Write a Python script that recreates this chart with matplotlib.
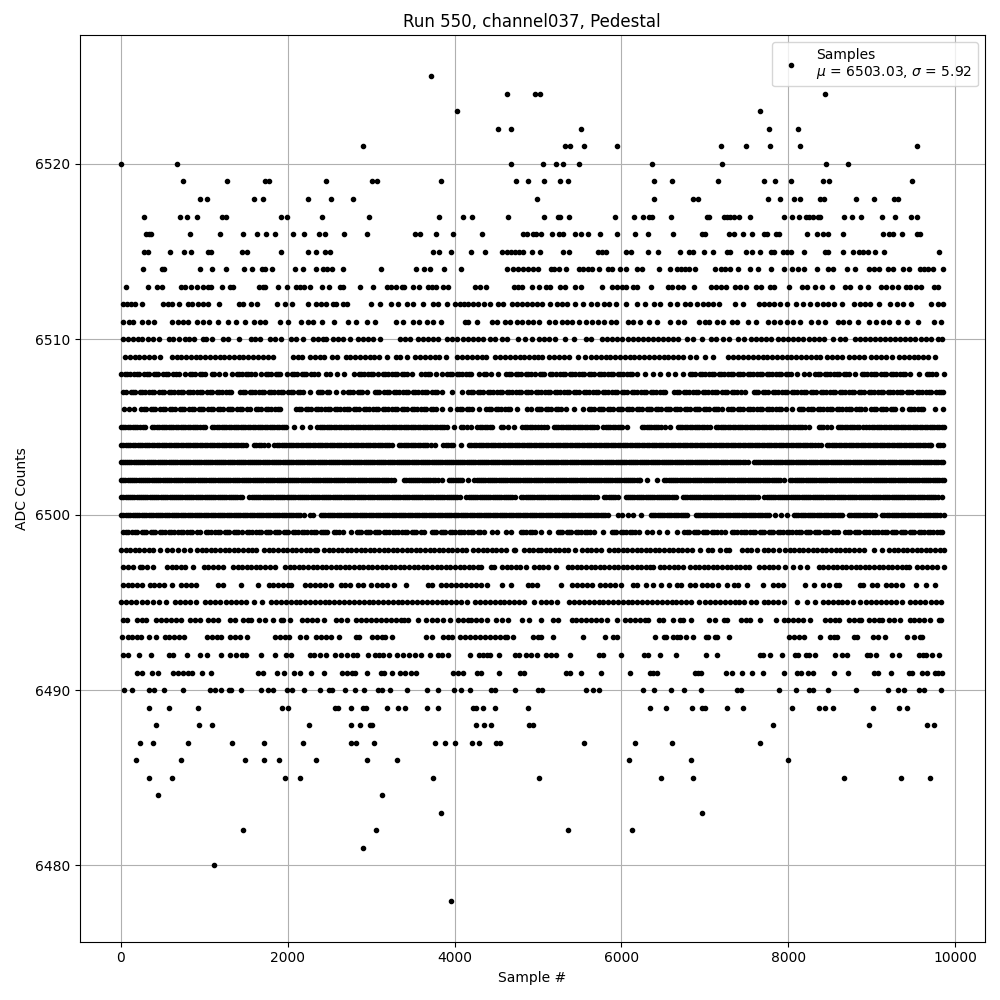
import matplotlib
matplotlib.use("Agg")
import matplotlib.pyplot as plt

# sample numbers, one list per ADC level
s6525 = [3720]
s6524 = [4632, 4964, 5024, 8436]
s6523 = [4032, 7656]
s6522 = [4524, 4672, 5520, 7764, 8112]
s6521 = [2904, 5320, 5388, 5556, 5952, 7188, 7488, 7776, 8136, 9540]
s6520 = [0, 672, 4680, 5064, 5220, 5296, 5496, 6360, 7200, 8448, 8712]
s6519 = [744, 1272, 1724, 1776, 2460, 3012, 3072, 3840, 4740, 4884, 5076, 5268, 5364, 6384, 6600, 7152, 7704, 7836,
         8028, 8412, 8484, 9480]
s6518 = [948, 1032, 1596, 1704, 2244, 2520, 2784, 4992, 6384, 6852, 6912, 7752, 7896, 8064, 8136, 8376, 8424, 8808,
         9024, 9264, 9312]
s6517 = [276, 708, 796, 912, 1212, 1260, 1920, 1992, 2412, 2976, 3816, 4104, 4212, 4644, 5076, 5244, 5268, 5376,
         5928, 6144, 6252, 6324, 6360, 6588, 7020, 7044, 7224, 7260, 7296, 7344, 7404, 7536, 7944, 8040, 8124, 8208,
         8244, 8292, 8352, 8376, 8664, 8760, 8868, 9120, 9276, 9468, 9540]
s6516 = [300, 336, 368, 828, 1188, 1464, 1632, 1740, 1848, 2064, 2196, 2376, 2448, 2676, 2952, 3528, 3588, 3780,
         3984, 4332, 4824, 4864, 4944, 4976, 5032, 5172, 5256, 5304, 5448, 5520, 5604, 5748, 5952, 6156, 6312, 6612,
         6960, 6996, 7284, 7344, 7452, 7560, 7704, 7740, 7856, 7884, 8220, 8340, 8412, 8472, 8652, 9132, 9204, 9252,
         9360, 9540, 9572]
s6515 = [284, 328, 588, 756, 840, 1048, 1080, 1448, 1512, 1920, 2244, 2340, 2448, 2508, 3744, 3816, 3960, 4200,
         4368, 4572, 4624, 4680, 4728, 4776, 4824, 4932, 5028, 5304, 5376, 5724, 5772, 5820, 6060, 6108, 6312, 6432,
         6696, 6804, 6852, 6984, 7092, 7260, 7296, 7488, 7560, 7656, 7788, 7824, 7932, 7980, 8028, 8184, 8436, 8472,
         8652, 8772, 8844, 8892, 8952, 9036, 9144, 9804]
s6514 = [264, 492, 520, 948, 1092, 1260, 1476, 1572, 1692, 1728, 1812, 2088, 2184, 2340, 2424, 2472, 2532, 2664,
         3120, 3540, 3636, 3708, 3876, 4080, 4632, 4704, 4764, 4824, 4884, 4936, 5004, 5160, 5196, 5256, 5340, 5496,
         5544, 5604, 5652, 5736, 5844, 5892, 5988, 6052, 6180, 6240, 6444, 6576, 6660, 6708, 6756, 6804, 6876, 7116,
         7188, 7236, 7296, 7392, 7536, 7632, 7788, 7944, 8040, 8112, 8184, 8340, 8472, 8532, 8700, 8796, 8964, 9024,
         9084, 9192, 9252, 9372, 9444, 9576, 9624, 9672, 9732, 9852]
s6513 = [60, 324, 440, 492, 720, 768, 840, 912, 984, 1044, 1080, 1212, 1308, 1344, 1656, 1704, 1728, 1884, 1992,
         2100, 2148, 2196, 2268, 2412, 2496, 2628, 2664, 2868, 3024, 3192, 3240, 3300, 3372, 3396, 3504, 3576, 3684,
         3732, 3780, 3864, 3924, 4248, 4308, 4380, 4716, 4764, 4812, 4932, 5016, 5100, 5148, 5268, 5328, 5448, 5520,
         5772, 5892, 5952, 6012, 6060, 6132, 6180, 6348, 6552, 6600, 6672, 6732, 6864, 7068, 7128, 7188, 7248, 7356,
         7416, 7488, 7612, 7668, 7776, 7824, 8004, 8160, 8220, 8316, 8400, 8520, 8676, 8736, 8856, 8952, 9108, 9168,
         9240, 9312, 9408, 9456, 9528, 9588, 9744, 9792]
s6512 = [24, 72, 120, 168, 252, 504, 564, 612, 696, 804, 852, 924, 984, 1044, 1176, 1416, 1464, 1560, 1632, 1872,
         1968, 2052, 2244, 2344, 2404, 2464, 2544, 2584, 2664, 2712, 3000, 3108, 3240, 3324, 3432, 3504, 3616, 3744,
         3804, 3912, 4008, 4064, 4116, 4164, 4216, 4284, 4356, 4428, 4524, 4584, 4684, 4744, 4804, 4864, 4924, 4984,
         5052, 5148, 5232, 5292, 5352, 5448, 5544, 5640, 5712, 5796, 5856, 5940, 6060, 6180, 6276, 6384, 6456, 6576,
         6660, 6756, 6816, 6900, 6972, 7032, 7092, 7164, 7356, 7452, 7644, 7704, 7764, 7824, 7896, 7980, 8088, 8172,
         8256, 8340, 8412, 8472, 8552, 8640, 8784, 8856, 8916, 8976, 9084, 9220, 9304, 9372, 9468, 9708, 9792, 9852]
s6511 = [24, 104, 144, 252, 324, 396, 612, 684, 744, 804, 912, 984, 1064, 1164, 1284, 1384, 1488, 1592, 1664, 1728,
         1912, 2004, 2160, 2244, 2304, 2412, 2552, 2724, 2820, 2952, 3048, 3304, 3384, 3504, 3576, 3664, 3744, 3840,
         4124, 4164, 4264, 4444, 4504, 4604, 4664, 4744, 4804, 4884, 4944, 5016, 5136, 5208, 5292, 5352, 5412, 5492,
         5572, 5652, 5724, 5796, 5872, 5940, 6072, 6132, 6216, 6324, 6420, 6576, 6672, 6744, 6924, 6996, 7044, 7140,
         7212, 7320, 7380, 7512, 7608, 7752, 7824, 7896, 7980, 8052, 8140, 8272, 8352, 8436, 8592, 8652, 8724, 8832,
         8964, 9052, 9132, 9204, 9312, 9420, 9552, 9744, 9828]
s6510 = [24, 84, 144, 204, 252, 324, 384, 456, 576, 624, 704, 776, 824, 884, 984, 1024, 1092, 1224, 1284, 1416,
         1564, 1608, 1668, 1784, 1844, 1924, 2044, 2104, 2184, 2304, 2364, 2424, 2464, 2544, 2604, 2664, 2744, 2844,
         2904, 2964, 3024, 3108, 3344, 3404, 3464, 3564, 3624, 3684, 3744, 3804, 3904, 3964, 4024, 4104, 4164, 4224,
         4284, 4344, 4424, 4484, 4564, 4624, 4764, 4844, 4924, 5012, 5072, 5132, 5204, 5324, 5432, 5572, 5632, 5772,
         5832, 5892, 5952, 6012, 6072, 6132, 6192, 6252, 6312, 6372, 6432, 6492, 6552, 6612, 6672, 6784, 6852, 6960,
         7072, 7132, 7212, 7292, 7392, 7472, 7552, 7612, 7672, 7732, 7792, 7872, 7932, 7992, 8052, 8112, 8172, 8252,
         8312, 8372, 8432, 8532, 8620, 8676, 8792, 8852, 8912, 8972, 9032, 9092, 9152, 9212, 9272, 9332, 9392, 9452,
         9512, 9592, 9652, 9712, 9792, 9844]
s6509 = [54, 110, 170, 225, 285, 340, 400, 474, 614, 670, 725, 780, 840, 900, 955, 1010, 1070, 1125, 1185, 1240,
         1300, 1355, 1415, 1470, 1530, 1590, 1645, 1700, 1760, 1826, 2066, 2120, 2174, 2274, 2330, 2390, 2434, 2534,
         2594, 2694, 2750, 2810, 2870, 2925, 2985, 3040, 3100, 3194, 3294, 3350, 3426, 3526, 3585, 3640, 3700, 3760,
         3815, 3894, 4034, 4090, 4150, 4210, 4270, 4330, 4374, 4486, 4545, 4600, 4660, 4720, 4780, 4835, 4890, 4950,
         5004, 5052, 5130, 5190, 5250, 5310, 5374, 5482, 5562, 5634, 5690, 5750, 5810, 5865, 5925, 5980, 6040, 6100,
         6155, 6215, 6270, 6330, 6390, 6445, 6505, 6560, 6620, 6680, 6735, 6822, 6892, 7002, 7102, 7282, 7340, 7400,
         7455, 7515, 7570, 7630, 7690, 7745, 7805, 7860, 7920, 7980, 8035, 8095, 8150, 8210, 8270, 8325, 8382, 8462,
         8520, 8580, 8642, 8730, 8790, 8850, 8902, 8994, 9050, 9110, 9170, 9242, 9322, 9380, 9440, 9500, 9555, 9615,
         9675, 9762]
s6508 = [5, 50, 110, 165, 220, 280, 335, 395, 450, 510, 565, 625, 694, 774, 830, 890, 945, 1005, 1094, 1182, 1254,
         1334, 1390, 1450, 1505, 1560, 1614, 1686, 1740, 1800, 1860, 1914, 1994, 2050, 2110, 2170, 2225, 2285, 2362,
         2454, 2510, 2594, 2680, 2794, 2850, 2910, 2965, 3025, 3085, 3140, 3200, 3255, 3315, 3370, 3430, 3494, 3594,
         3650, 3710, 3774, 3854, 3910, 3970, 4025, 4085, 4140, 4194, 4294, 4350, 4434, 4522, 4622, 4680, 4735, 4795,
         4850, 4910, 4965, 5020, 5075, 5142, 5210, 5265, 5325, 5380, 5440, 5495, 5555, 5610, 5670, 5725, 5785, 5840,
         5900, 5955, 6015, 6070, 6130, 6185, 6282, 6372, 6460, 6554, 6638, 6735, 6822, 6880, 6935, 6995, 7050, 7110,
         7165, 7225, 7280, 7340, 7395, 7455, 7510, 7570, 7625, 7685, 7740, 7800, 7855, 7915, 7970, 8030, 8102, 8182,
         8242, 8322, 8380, 8435, 8495, 8550, 8610, 8665, 8725, 8802, 8882, 8940, 8995, 9055, 9110, 9170, 9225, 9285,
         9340, 9400, 9455, 9562, 9662, 9720, 9774, 9860]
f6508 = [80, 195, 310, 425, 540, 660, 860, 975, 1120, 1420, 1530, 1770, 1885, 2080, 2200, 2320, 2880, 3000, 3170,
         3285, 3400, 3680, 3940, 4055, 4170, 4380, 4650, 4765, 4880, 5045, 5170, 5295, 5410, 5525, 5640, 5755, 5870,
         5985, 6100, 6850, 6965, 7080, 7195, 7310, 7425, 7540, 7655, 7770, 7885, 8000, 8350, 8465, 8580, 8695, 8910,
         9025, 9140, 9255, 9370, 9690]
s6507 = [62, 118, 175, 230, 290, 345, 405, 460, 520, 575, 635, 690, 750, 805, 865, 920, 980, 1035, 1095, 1150, 1210,
         1265, 1322, 1434, 1490, 1545, 1605, 1660, 1720, 1775, 1835, 1890, 1950, 2005, 2065, 2120, 2186, 2268, 2358,
         2415, 2470, 2574, 2666, 2725, 2780, 2840, 2895, 2954, 3042, 3100, 3155, 3215, 3270, 3330, 3385, 3445, 3500,
         3560, 3615, 3675, 3730, 3790, 3854, 3970, 4085, 4166, 4225, 4280, 4340, 4395, 4455, 4510, 4570, 4625, 4685,
         4740, 4800, 4855, 4915, 4970, 5030, 5085, 5145, 5200, 5260, 5315, 5375, 5430, 5490, 5545, 5605, 5660, 5720,
         5775, 5835, 5890, 5950, 6005, 6065, 6120, 6180, 6235, 6295, 6350, 6410, 6465, 6522, 6630, 6690, 6745, 6805,
         6860, 6920, 6975, 7035, 7090, 7150, 7205, 7265, 7320, 7380, 7435, 7474, 7582, 7640, 7695, 7755, 7810, 7870,
         7925, 7985, 8040, 8100, 8155, 8215, 8270, 8330, 8385, 8445, 8500, 8560, 8615, 8675, 8730, 8790, 8845, 8905,
         8960, 9020, 9075, 9135, 9190, 9250, 9305, 9365, 9420, 9480, 9535, 9595, 9650, 9712, 9774, 9830, 9854]
f6507 = [32, 145, 260, 375, 490, 605, 720, 835, 950, 1065, 1180, 1295, 1460, 1575, 1690, 1805, 1920, 2035, 2150,
         2385, 2500, 2750, 2865, 3070, 3185, 3300, 3415, 3530, 3645, 3760, 4195, 4310, 4425, 4540, 4655, 4770, 4885,
         5000, 5115, 5230, 5345, 5460, 5575, 5690, 5805, 5920, 6035, 6150, 6265, 6380, 6495, 6660, 6775, 6890, 7005,
         7120, 7235, 7350, 7610, 7725, 7840, 7955, 8070, 8185, 8300, 8415, 8530, 8645, 8760, 8875, 8990, 9105, 9220,
         9335, 9450, 9565, 9680, 9800]
s6506 = [38, 100, 154, 246, 300, 360, 415, 475, 530, 590, 645, 705, 760, 820, 875, 935, 990, 1050, 1105, 1165, 1220,
         1280, 1335, 1395, 1450, 1510, 1554, 1622, 1680, 1735, 1795, 1850, 1914, 2106, 2165, 2220, 2280, 2335, 2395,
         2450, 2510, 2565, 2625, 2680, 2740, 2795, 2855, 2910, 2970, 3025, 3085, 3140, 3200, 3255, 3315, 3370, 3430,
         3485, 3545, 3600, 3660, 3715, 3775, 3854, 3940, 4034, 4090, 4150, 4205, 4294, 4382, 4440, 4495, 4555, 4610,
         4670, 4754, 4862, 4920, 4982, 5040, 5095, 5155, 5210, 5270, 5338, 5434, 5534, 5610, 5665, 5725, 5780, 5840,
         5895, 5955, 6010, 6070, 6125, 6185, 6240, 6300, 6355, 6415, 6470, 6530, 6585, 6645, 6700, 6760, 6815, 6875,
         6930, 6990, 7045, 7105, 7160, 7202, 7282, 7340, 7395, 7455, 7510, 7570, 7625, 7685, 7740, 7800, 7855, 7915,
         7970, 8042, 8122, 8180, 8235, 8295, 8350, 8410, 8465, 8525, 8580, 8640, 8695, 8755, 8810, 8870, 8922, 8994,
         9050, 9110, 9165, 9225, 9280, 9362, 9442, 9500, 9555, 9610, 9762, 9854]
f6506 = [275, 390, 505, 620, 735, 850, 965, 1080, 1195, 1310, 1425, 1650, 1765, 1880, 2135, 2250, 2365, 2480, 2595,
         2710, 2825, 2940, 3055, 3170, 3285, 3400, 3515, 3630, 3745, 4060, 4175, 4410, 4525, 4640, 5010, 5125, 5240,
         5635, 5750, 5865, 5980, 6095, 6210, 6325, 6440, 6555, 6670, 6785, 6900, 7015, 7130, 7310, 7425, 7540, 7655,
         7770, 7885, 8150, 8265, 8380, 8495, 8610, 8725, 8840, 9020, 9135, 9250, 9470, 9585]
s6505 = [5, 55, 115, 170, 230, 294, 374, 430, 490, 545, 605, 660, 720, 775, 835, 890, 950, 1014, 1094, 1150, 1210,
         1265, 1325, 1380, 1440, 1495, 1555, 1610, 1670, 1725, 1785, 1840, 1900, 1955, 1986, 2080, 2174, 2274, 2354,
         2410, 2470, 2525, 2585, 2640, 2700, 2755, 2815, 2870, 2930, 2985, 3045, 3100, 3160, 3215, 3275, 3330, 3390,
         3445, 3505, 3560, 3620, 3675, 3735, 3790, 3850, 3905, 3994, 4074, 4194, 4274, 4330, 4390, 4454, 4554, 4714,
         4814, 4870, 4930, 4994, 5040, 5110, 5186, 5245, 5300, 5360, 5415, 5475, 5530, 5590, 5645, 5710, 5782, 5840,
         5895, 5955, 6010, 6062, 6242, 6300, 6355, 6415, 6470, 6582, 6674, 6730, 6790, 6845, 6905, 6960, 7020, 7062,
         7130, 7190, 7245, 7305, 7360, 7420, 7475, 7535, 7590, 7650, 7705, 7765, 7820, 7880, 7935, 7995, 8050, 8110,
         8165, 8242, 8362, 8420, 8510, 8590, 8645, 8705, 8760, 8820, 8894, 8970, 9030, 9085, 9145, 9200, 9260, 9315,
         9375, 9430, 9490, 9545, 9605, 9662, 9722, 9780, 9835, 9862]
f6505 = [30, 85, 142, 200, 262, 400, 460, 518, 575, 632, 690, 748, 805, 862, 920, 982, 1122, 1180, 1238, 1295, 1352,
         1410, 1468, 1525, 1582, 1640, 1698, 1755, 1812, 1870, 1928, 2384, 2440, 2498, 2555, 2612, 2670, 2728, 2785,
         2842, 2900, 2958, 3015, 3072, 3130, 3188, 3245, 3302, 3360, 3418, 3475, 3532, 3590, 3648, 3705, 3762, 3820,
         3878, 4100, 4150, 4302, 4360, 4420, 4585, 4640, 4842, 4900, 4962, 5075, 5215, 5272, 5330, 5388, 5445, 5502,
         5560, 5618, 5675, 5812, 5868, 5925, 5982, 6270, 6328, 6385, 6442, 6526, 6702, 6760, 6818, 6875, 6932, 6990,
         7160, 7218, 7275, 7332, 7390, 7448, 7505, 7562, 7620, 7678, 7735, 7792, 7850, 7908, 7965, 8022, 8080, 8138,
         8195, 8392, 8465, 8618, 8675, 8732, 8790, 8850, 8930, 9000, 9058, 9115, 9172, 9230, 9288, 9345, 9402, 9460,
         9518, 9575, 9632, 9692, 9750, 9808]
s6504 = [5, 60, 115, 175, 230, 290, 345, 405, 460, 520, 575, 635, 690, 750, 805, 865, 920, 980, 1035, 1095, 1150,
         1210, 1265, 1325, 1380, 1440, 1506, 1598, 1655, 1715, 1762, 1842, 1900, 1955, 2015, 2070, 2130, 2185, 2245,
         2300, 2360, 2415, 2475, 2530, 2590, 2645, 2705, 2760, 2820, 2875, 2935, 2990, 3050, 3105, 3165, 3220, 3254,
         3334, 3390, 3445, 3505, 3560, 3620, 3675, 3762, 3866, 3925, 3980, 4082, 4174, 4230, 4290, 4345, 4405, 4460,
         4520, 4575, 4635, 4690, 4750, 4805, 4865, 4920, 4980, 5035, 5095, 5150, 5210, 5265, 5325, 5380, 5440, 5495,
         5555, 5610, 5670, 5725, 5785, 5840, 5900, 5955, 6015, 6070, 6130, 6185, 6245, 6300, 6360, 6415, 6475, 6530,
         6590, 6645, 6705, 6760, 6820, 6875, 6935, 6990, 7050, 7105, 7165, 7220, 7280, 7335, 7395, 7450, 7510, 7565,
         7625, 7680, 7740, 7795, 7855, 7910, 7970, 8025, 8085, 8140, 8200, 8255, 8315, 8390, 8462, 8520, 8575, 8635,
         8690, 8750, 8805, 8865, 8920, 8980, 9035, 9095, 9150, 9210, 9265, 9325, 9380, 9440, 9495, 9555, 9610, 9670,
         9710, 9790, 9846]
f6504 = [32, 88, 145, 202, 260, 318, 375, 432, 490, 548, 605, 662, 720, 778, 835, 892, 950, 1008, 1065, 1122, 1180,
         1238, 1295, 1352, 1410, 1470, 1625, 1685, 1870, 1928, 1985, 2042, 2100, 2158, 2215, 2272, 2330, 2388, 2445,
         2502, 2560, 2618, 2675, 2732, 2790, 2848, 2905, 2962, 3020, 3078, 3135, 3192, 3362, 3418, 3475, 3532, 3590,
         3648, 3720, 3895, 3952, 4202, 4260, 4318, 4375, 4432, 4490, 4548, 4605, 4662, 4720, 4778, 4835, 4892, 4950,
         5008, 5065, 5122, 5180, 5238, 5295, 5352, 5410, 5468, 5525, 5582, 5640, 5698, 5755, 5812, 5870, 5928, 5985,
         6042, 6100, 6158, 6215, 6272, 6330, 6388, 6445, 6502, 6560, 6618, 6675, 6732, 6790, 6848, 6905, 6962, 7020,
         7078, 7135, 7192, 7250, 7308, 7365, 7422, 7480, 7538, 7595, 7652, 7710, 7768, 7825, 7882, 7940, 7998, 8055,
         8112, 8170, 8228, 8285, 8350, 8490, 8548, 8605, 8662, 8720, 8778, 8835, 8892, 8950, 9008, 9065, 9122, 9180,
         9238, 9295, 9352, 9410, 9468, 9525, 9582, 9640, 9700, 9818]
s6503 = [5, 50, 100, 155, 205, 260, 310, 365, 415, 470, 520, 575, 625, 680, 730, 785, 835, 890, 940, 995, 1045,
         1100, 1150, 1205, 1255, 1310, 1360, 1415, 1465, 1520, 1570, 1625, 1675, 1730, 1780, 1835, 1885, 1940, 1990,
         2045, 2095, 2150, 2200, 2255, 2305, 2360, 2410, 2465, 2515, 2570, 2620, 2675, 2725, 2780, 2830, 2885, 2935,
         2990, 3040, 3095, 3145, 3200, 3250, 3305, 3355, 3410, 3460, 3515, 3565, 3620, 3670, 3725, 3775, 3830, 3880,
         3935, 3985, 4040, 4090, 4145, 4195, 4250, 4300, 4355, 4405, 4460, 4510, 4565, 4615, 4670, 4720, 4775, 4825,
         4880, 4930, 4985, 5035, 5090, 5140, 5195, 5245, 5300, 5350, 5405, 5455, 5510, 5560, 5615, 5665, 5720, 5770,
         5825, 5875, 5930, 5980, 6035, 6085, 6140, 6190, 6245, 6295, 6350, 6400, 6455, 6505, 6560, 6610, 6665, 6715,
         6770, 6820, 6875, 6925, 6980, 7030, 7085, 7135, 7190, 7240, 7295, 7345, 7400, 7450, 7510, 7586, 7640, 7690,
         7745, 7795, 7850, 7900, 7955, 8005, 8060, 8110, 8165, 8215, 8270, 8320, 8375, 8425, 8480, 8530, 8585, 8635,
         8690, 8740, 8795, 8845, 8900, 8950, 9005, 9055, 9110, 9160, 9215, 9265, 9320, 9370, 9425, 9475, 9530, 9580,
         9635, 9685, 9740, 9790, 9854]
f6503 = [28, 75, 128, 180, 232, 285, 338, 390, 442, 495, 548, 600, 652, 705, 758, 810, 862, 915, 968, 1020, 1072,
         1125, 1178, 1230, 1282, 1335, 1388, 1440, 1492, 1545, 1598, 1650, 1702, 1755, 1808, 1860, 1912, 1965, 2018,
         2070, 2122, 2175, 2228, 2280, 2332, 2385, 2438, 2490, 2542, 2595, 2648, 2700, 2752, 2805, 2858, 2910, 2962,
         3015, 3068, 3120, 3172, 3225, 3278, 3330, 3382, 3435, 3488, 3540, 3592, 3645, 3698, 3750, 3802, 3855, 3908,
         3960, 4012, 4065, 4118, 4170, 4222, 4275, 4328, 4380, 4432, 4485, 4538, 4590, 4642, 4695, 4748, 4800, 4852,
         4905, 4958, 5010, 5062, 5115, 5168, 5220, 5272, 5325, 5378, 5430, 5482, 5535, 5588, 5640, 5692, 5745, 5798,
         5850, 5902, 5955, 6008, 6060, 6112, 6165, 6218, 6270, 6322, 6375, 6428, 6480, 6532, 6585, 6638, 6690, 6742,
         6795, 6848, 6900, 6952, 7005, 7058, 7110, 7162, 7215, 7268, 7320, 7372, 7425, 7480, 7615, 7665, 7718, 7770,
         7822, 7875, 7928, 7980, 8032, 8085, 8138, 8190, 8242, 8295, 8348, 8400, 8452, 8505, 8558, 8610, 8662, 8715,
         8768, 8820, 8872, 8925, 8978, 9030, 9082, 9135, 9188, 9240, 9292, 9345, 9398, 9450, 9502, 9555, 9608, 9660,
         9712, 9765, 9822]
s6502 = [5, 55, 110, 160, 215, 265, 320, 370, 425, 475, 530, 580, 635, 685, 740, 790, 845, 895, 950, 1000, 1055,
         1105, 1160, 1210, 1265, 1315, 1370, 1420, 1475, 1525, 1580, 1630, 1685, 1735, 1790, 1840, 1895, 1945, 2000,
         2050, 2105, 2155, 2210, 2260, 2315, 2365, 2420, 2470, 2525, 2575, 2630, 2680, 2735, 2785, 2840, 2890, 2945,
         2995, 3050, 3100, 3155, 3205, 3240, 3394, 3450, 3500, 3555, 3605, 3660, 3710, 3765, 3854, 3934, 3985, 4040,
         4090, 4166, 4238, 4290, 4345, 4395, 4450, 4500, 4555, 4605, 4660, 4710, 4765, 4815, 4870, 4920, 4975, 5025,
         5080, 5130, 5185, 5235, 5290, 5340, 5395, 5445, 5500, 5550, 5605, 5655, 5710, 5760, 5815, 5865, 5920, 5970,
         6025, 6075, 6130, 6180, 6222, 6302, 6430, 6510, 6565, 6615, 6670, 6720, 6775, 6825, 6880, 6930, 6985, 7035,
         7090, 7140, 7195, 7245, 7300, 7350, 7405, 7455, 7510, 7560, 7615, 7665, 7720, 7770, 7825, 7875, 7942, 8022,
         8075, 8125, 8180, 8230, 8285, 8335, 8390, 8440, 8495, 8545, 8600, 8650, 8705, 8755, 8810, 8860, 8915, 8965,
         9020, 9070, 9125, 9175, 9230, 9280, 9335, 9385, 9440, 9490, 9545, 9595, 9650, 9700, 9755, 9805, 9862]
f6502 = [30, 82, 135, 188, 240, 292, 345, 398, 450, 502, 555, 608, 660, 712, 765, 818, 870, 922, 975, 1028, 1080,
         1132, 1185, 1238, 1290, 1342, 1395, 1448, 1500, 1552, 1605, 1658, 1710, 1762, 1815, 1868, 1920, 1972, 2025,
         2078, 2130, 2182, 2235, 2288, 2340, 2392, 2445, 2498, 2550, 2602, 2655, 2708, 2760, 2812, 2865, 2918, 2970,
         3022, 3075, 3128, 3180, 3270, 3422, 3475, 3528, 3580, 3632, 3685, 3738, 3800, 3960, 4012, 4065, 4265, 4318,
         4370, 4422, 4475, 4528, 4580, 4632, 4685, 4738, 4790, 4842, 4895, 4948, 5000, 5052, 5105, 5158, 5210, 5262,
         5315, 5368, 5420, 5472, 5525, 5578, 5630, 5682, 5735, 5788, 5840, 5892, 5945, 5998, 6050, 6102, 6155, 6205,
         6535, 6590, 6642, 6695, 6748, 6800, 6852, 6905, 6958, 7010, 7062, 7115, 7168, 7220, 7272, 7325, 7378, 7430,
         7482, 7535, 7588, 7640, 7692, 7745, 7798, 7850, 7905, 8048, 8100, 8152, 8205, 8258, 8310, 8362, 8415, 8468,
         8520, 8572, 8625, 8678, 8730, 8782, 8835, 8888, 8940, 8992, 9045, 9098, 9150, 9202, 9255, 9308, 9360, 9412,
         9465, 9518, 9570, 9622, 9675, 9728, 9780, 9835]
s6501 = [5, 60, 110, 165, 215, 270, 320, 375, 425, 480, 530, 585, 635, 690, 740, 795, 845, 900, 950, 1005, 1055,
         1110, 1160, 1215, 1265, 1320, 1370, 1425, 1454, 1542, 1595, 1645, 1700, 1750, 1805, 1855, 1910, 1960, 2015,
         2065, 2120, 2170, 2225, 2275, 2330, 2380, 2435, 2485, 2540, 2590, 2645, 2695, 2750, 2800, 2855, 2905, 2960,
         3010, 3065, 3115, 3170, 3220, 3275, 3325, 3380, 3430, 3485, 3535, 3590, 3640, 3695, 3745, 3800, 3850, 3905,
         3955, 4010, 4066, 4142, 4195, 4245, 4300, 4350, 4405, 4455, 4510, 4560, 4615, 4665, 4722, 4798, 4850, 4905,
         4955, 5010, 5060, 5115, 5165, 5220, 5270, 5325, 5375, 5430, 5480, 5535, 5585, 5640, 5710, 5790, 5845, 5895,
         5962, 6050, 6105, 6155, 6210, 6260, 6315, 6365, 6420, 6470, 6525, 6575, 6654, 6734, 6790, 6840, 6895, 6945,
         7000, 7050, 7105, 7155, 7210, 7260, 7315, 7365, 7420, 7470, 7525, 7575, 7630, 7710, 7765, 7815, 7870, 7920,
         7975, 8025, 8080, 8130, 8185, 8235, 8290, 8340, 8395, 8445, 8500, 8550, 8605, 8655, 8710, 8760, 8815, 8865,
         8920, 8970, 9025, 9075, 9130, 9180, 9235, 9285, 9340, 9390, 9445, 9495, 9550, 9600, 9655, 9705, 9760, 9834]
f6501 = [32, 85, 138, 190, 242, 295, 348, 400, 452, 505, 558, 610, 662, 715, 768, 820, 872, 925, 978, 1030, 1082,
         1135, 1188, 1240, 1292, 1345, 1398, 1568, 1620, 1672, 1725, 1778, 1830, 1882, 1935, 1988, 2040, 2092, 2145,
         2198, 2250, 2302, 2355, 2408, 2460, 2512, 2565, 2618, 2670, 2722, 2775, 2828, 2880, 2932, 2985, 3038, 3090,
         3142, 3195, 3248, 3300, 3352, 3405, 3458, 3510, 3562, 3615, 3668, 3720, 3772, 3825, 3878, 3930, 3982, 4035,
         4168, 4220, 4272, 4325, 4378, 4430, 4482, 4535, 4588, 4640, 4692, 4825, 4878, 4930, 4982, 5035, 5088, 5140,
         5192, 5245, 5298, 5350, 5402, 5455, 5508, 5560, 5612, 5670, 5818, 5870, 5925, 6078, 6130, 6182, 6235, 6288,
         6340, 6392, 6445, 6498, 6550, 6602, 6630, 6762, 6815, 6868, 6920, 6972, 7025, 7078, 7130, 7182, 7235, 7288,
         7340, 7392, 7445, 7498, 7550, 7602, 7738, 7790, 7842, 7895, 7948, 8000, 8052, 8105, 8158, 8210, 8262, 8315,
         8368, 8420, 8472, 8525, 8578, 8630, 8682, 8735, 8788, 8840, 8892, 8945, 8998, 9050, 9102, 9155, 9208, 9260,
         9312, 9365, 9418, 9470, 9522, 9575, 9628, 9680, 9732, 9790]
s6500 = [5, 60, 115, 170, 225, 280, 335, 390, 445, 500, 555, 610, 665, 720, 775, 830, 885, 940, 995, 1050, 1105,
         1160, 1215, 1270, 1325, 1380, 1435, 1490, 1545, 1600, 1655, 1710, 1765, 1820, 1875, 1930, 1985, 2040, 2095,
         2150, 2194, 2274, 2306, 2394, 2450, 2505, 2560, 2615, 2670, 2725, 2780, 2835, 2890, 2945, 3000, 3055, 3110,
         3165, 3220, 3275, 3330, 3385, 3440, 3495, 3550, 3605, 3660, 3715, 3770, 3825, 3880, 3935, 3990, 4045, 4100,
         4155, 4210, 4265, 4320, 4375, 4430, 4485, 4540, 4595, 4650, 4705, 4760, 4815, 4870, 4925, 4980, 5035, 5090,
         5145, 5200, 5255, 5310, 5365, 5420, 5475, 5530, 5585, 5640, 5695, 5750, 5805, 5842, 5954, 6002, 6082, 6140,
         6234, 6350, 6405, 6460, 6515, 6570, 6625, 6680, 6735, 6790, 6890, 6945, 7000, 7055, 7110, 7165, 7220, 7275,
         7330, 7385, 7440, 7495, 7550, 7605, 7660, 7715, 7770, 7842, 7914, 7982, 8066, 8120, 8175, 8230, 8285, 8340,
         8395, 8450, 8505, 8560, 8615, 8642, 8722, 8780, 8835, 8890, 8945, 9000, 9042, 9122, 9180, 9235, 9290, 9345,
         9400, 9455, 9510, 9565, 9620, 9675, 9730, 9785, 9862]
f6500 = [32, 88, 142, 198, 252, 308, 362, 418, 472, 528, 582, 638, 692, 748, 802, 858, 912, 968, 1022, 1078, 1132,
         1188, 1242, 1298, 1352, 1408, 1462, 1518, 1572, 1628, 1682, 1738, 1792, 1848, 1902, 1958, 2012, 2068, 2122,
         2422, 2478, 2532, 2588, 2642, 2698, 2752, 2808, 2862, 2918, 2972, 3028, 3082, 3138, 3192, 3248, 3302, 3358,
         3412, 3468, 3522, 3578, 3632, 3688, 3742, 3798, 3852, 3908, 3962, 4018, 4072, 4128, 4182, 4238, 4292, 4348,
         4402, 4458, 4512, 4568, 4622, 4678, 4732, 4788, 4842, 4898, 4952, 5008, 5062, 5118, 5172, 5228, 5282, 5338,
         5392, 5448, 5502, 5558, 5612, 5668, 5722, 5778, 6378, 6432, 6488, 6542, 6598, 6652, 6708, 6762, 6918, 6972,
         7028, 7082, 7138, 7192, 7248, 7302, 7358, 7412, 7468, 7522, 7578, 7632, 7688, 7742, 8092, 8148, 8202, 8258,
         8312, 8368, 8422, 8478, 8532, 8588, 8750, 8808, 8862, 8918, 8972, 9150, 9208, 9262, 9318, 9372, 9428, 9482,
         9538, 9592, 9648, 9702, 9758, 9820]
s6499 = [30, 85, 140, 195, 250, 305, 360, 415, 470, 525, 580, 635, 690, 745, 800, 855, 910, 954, 1022, 1080, 1135,
         1190, 1245, 1300, 1355, 1410, 1454, 1514, 1570, 1625, 1680, 1735, 1790, 1845, 1900, 1955, 2010, 2065, 2120,
         2175, 2230, 2285, 2340, 2395, 2450, 2474, 2554, 2610, 2665, 2754, 2826, 2880, 2935, 2990, 3045, 3100, 3155,
         3210, 3265, 3320, 3375, 3430, 3485, 3540, 3595, 3634, 3726, 3780, 3835, 3890, 3945, 4000, 4055, 4110, 4165,
         4220, 4275, 4354, 4454, 4506, 4622, 4682, 4794, 4850, 4905, 4960, 5030, 5126, 5234, 5290, 5345, 5400, 5455,
         5510, 5565, 5620, 5675, 5774, 5882, 5940, 5995, 6050, 6105, 6160, 6214, 6302, 6360, 6454, 6542, 6662, 6754,
         6810, 6865, 6920, 6975, 7030, 7085, 7140, 7195, 7242, 7322, 7380, 7435, 7490, 7545, 7600, 7655, 7710, 7765,
         7820, 7875, 7930, 7985, 8040, 8095, 8150, 8205, 8260, 8315, 8370, 8425, 8480, 8535, 8590, 8682, 8740, 8795,
         8850, 8905, 8960, 9015, 9070, 9125, 9180, 9235, 9290, 9345, 9400, 9455, 9510, 9565, 9620, 9675, 9730, 9785,
         9842]
f6499 = [58, 168, 278, 388, 498, 608, 718, 828, 1052, 1162, 1272, 1382, 1542, 1652, 1762, 1872, 1982, 2092, 2202,
         2312, 2422, 2580, 2852, 2962, 3072, 3182, 3292, 3402, 3512, 3752, 3862, 3972, 4082, 4192, 4302, 4820, 4930,
         5262, 5372, 5482, 5592, 5910, 6020, 6130, 6782, 6892, 7002, 7112, 7352, 7462, 7572, 7682, 7792, 7902, 8012,
         8122, 8232, 8342, 8452, 8562, 8712, 8822, 8932, 9042, 9152, 9262, 9372, 9482, 9592, 9702, 9812]
s6498 = [5, 60, 115, 170, 225, 280, 335, 390, 474, 554, 610, 682, 762, 826, 914, 970, 1025, 1080, 1135, 1190, 1245,
         1300, 1355, 1410, 1465, 1520, 1575, 1622, 1718, 1775, 1830, 1885, 1940, 1995, 2050, 2105, 2160, 2215, 2270,
         2325, 2354, 2434, 2490, 2545, 2600, 2655, 2710, 2765, 2820, 2875, 2930, 2985, 3040, 3095, 3150, 3205, 3260,
         3315, 3370, 3425, 3480, 3535, 3590, 3645, 3700, 3755, 3810, 3865, 3920, 3975, 4030, 4085, 4142, 4226, 4280,
         4335, 4390, 4445, 4500, 4555, 4622, 4714, 4722, 4834, 4890, 4945, 4994, 5035, 5090, 5145, 5200, 5255, 5310,
         5365, 5442, 5530, 5585, 5640, 5695, 5750, 5850, 5905, 5960, 6015, 6070, 6125, 6180, 6235, 6290, 6345, 6400,
         6455, 6510, 6565, 6620, 6675, 6730, 6785, 6840, 6942, 7034, 7090, 7182, 7250, 7294, 7442, 7500, 7555, 7622,
         7702, 7760, 7814, 7886, 7962, 8015, 8070, 8125, 8180, 8235, 8290, 8345, 8400, 8455, 8510, 8565, 8620, 8675,
         8730, 8785, 8840, 8902, 9030, 9122, 9202, 9260, 9315, 9370, 9425, 9480, 9535, 9590, 9645, 9700, 9755, 9810,
         9862]
s6497 = [30, 90, 146, 228, 254, 314, 386, 554, 610, 665, 720, 775, 862, 994, 1050, 1105, 1160, 1226, 1342, 1400,
         1455, 1510, 1565, 1620, 1675, 1730, 1785, 1854, 1966, 2025, 2080, 2135, 2190, 2245, 2300, 2355, 2410, 2465,
         2520, 2575, 2630, 2685, 2740, 2795, 2850, 2905, 2960, 3015, 3070, 3125, 3180, 3235, 3290, 3345, 3400, 3455,
         3510, 3565, 3620, 3675, 3730, 3785, 3840, 3895, 3950, 4005, 4060, 4115, 4170, 4225, 4280, 4314, 4442, 4474,
         4566, 4625, 4680, 4735, 4790, 4854, 4954, 5010, 5065, 5120, 5210, 5354, 5410, 5465, 5520, 5575, 5630, 5685,
         5740, 5795, 5850, 5905, 5960, 6015, 6070, 6125, 6180, 6235, 6290, 6345, 6382, 6458, 6515, 6570, 6625, 6680,
         6734, 6818, 6875, 6930, 6985, 7040, 7095, 7150, 7205, 7260, 7315, 7370, 7425, 7480, 7522, 7650, 7710, 7765,
         7820, 7870, 7960, 8055, 8142, 8222, 8362, 8420, 8475, 8530, 8585, 8640, 8695, 8750, 8805, 8860, 8915, 8970,
         9025, 9080, 9135, 9190, 9245, 9300, 9355, 9410, 9442, 9535, 9602, 9660, 9715, 9782, 9860]
s6496 = [30, 85, 140, 200, 254, 346, 405, 460, 520, 614, 722, 780, 840, 906, 1160, 1224, 1444, 1644, 1774, 1830,
         1890, 1950, 2010, 2042, 2206, 2265, 2325, 2385, 2445, 2514, 2634, 2690, 2746, 2846, 2905, 2994, 3074, 3135,
         3190, 3274, 3420, 3686, 3734, 3842, 3900, 3960, 4020, 4080, 4140, 4200, 4260, 4320, 4394, 4574, 4674, 4874,
         4930, 4990, 5272, 5410, 5470, 5530, 5590, 5642, 5742, 5800, 5860, 5920, 5990, 6134, 6190, 6294, 6374, 6474,
         6570, 6670, 6714, 6826, 6882, 6962, 7020, 7080, 7162, 7264, 7342, 7400, 7502, 7696, 7810, 7870, 7934, 8202,
         8310, 8414, 8482, 8570, 8610, 8862, 8894, 9002, 9062, 9170, 9230, 9290, 9362, 9532, 9650, 9762]
s6495 = [5, 60, 120, 186, 254, 310, 386, 462, 546, 646, 705, 765, 825, 906, 1006, 1065, 1125, 1194, 1262, 1320, 1380,
         1440, 1500, 1594, 1690, 1802, 1860, 1920, 1975, 2035, 2095, 2150, 2210, 2270, 2325, 2385, 2445, 2500, 2560,
         2620, 2675, 2735, 2795, 2850, 2910, 2970, 3025, 3085, 3145, 3200, 3260, 3320, 3375, 3435, 3495, 3550, 3610,
         3670, 3725, 3785, 3845, 3900, 3960, 4020, 4075, 4154, 4246, 4305, 4365, 4420, 4480, 4540, 4595, 4655, 4715,
         4770, 4834, 4954, 5038, 5100, 5160, 5222, 5374, 5430, 5490, 5550, 5605, 5665, 5725, 5780, 5840, 5900, 5955,
         6015, 6075, 6130, 6190, 6250, 6305, 6365, 6425, 6480, 6540, 6600, 6655, 6715, 6775, 6830, 6930, 7002, 7060,
         7120, 7180, 7235, 7295, 7355, 7410, 7462, 7550, 7614, 7702, 7760, 7820, 7880, 7950, 8102, 8222, 8322, 8410,
         8470, 8530, 8590, 8642, 8700, 8774, 8852, 8934, 8990, 9050, 9110, 9170, 9225, 9285, 9362, 9462, 9520, 9580,
         9642, 9714, 9770, 9822]
s6494 = [30, 74, 194, 250, 302, 422, 480, 540, 600, 660, 722, 830, 890, 954, 1046, 1106, 1166, 1306, 1366, 1466, 1530,
         1562, 1662, 1734, 1828, 1926, 1946, 2034, 2170, 2230, 2290, 2350, 2434, 2582, 2640, 2714, 2814, 2875, 2935,
         2995, 3055, 3115, 3175, 3235, 3295, 3355, 3394, 3442, 3562, 3654, 3734, 3790, 3866, 3950, 4042, 4100, 4160,
         4194, 4262, 4320, 4394, 4500, 4574, 4646, 4810, 4890, 5030, 5174, 5234, 5402, 5460, 5520, 5580, 5640, 5700,
         5760, 5822, 5946, 6042, 6100, 6160, 6220, 6280, 6322, 6454, 6494, 6618, 6702, 6734, 6832, 7050, 7122, 7234,
         7262, 7434, 7494, 7534, 7660, 7850, 7942, 8000, 8060, 8120, 8174, 8260, 8442, 8500, 8560, 8602, 8722, 8780,
         8840, 8870, 8962, 9020, 9080, 9122, 9202, 9260, 9334, 9454, 9510, 9570, 9630, 9702, 9802, 9822]
s6493 = [12, 86, 140, 200, 246, 342, 422, 526, 580, 640, 700, 762, 1034, 1090, 1150, 1202, 1306, 1370, 1434, 1512,
         1846, 1905, 1965, 2014, 2148, 2222, 2342, 2400, 2460, 2520, 2614, 2822, 2854, 3006, 3065, 3125, 3166, 3252,
         3654, 3734, 3866, 3920, 3974, 4066, 4125, 4185, 4245, 4305, 4365, 4425, 4485, 4545, 4605, 4634, 4696, 4942,
         4994, 5030, 5178, 5534, 5800, 5902, 5942, 6400, 6510, 6530, 6614, 6670, 6702, 6770, 6854, 7014, 7034, 7122,
         7142, 7284, 8010, 8070, 8130, 8182, 8374, 8494, 8550, 8582, 8790, 8822, 9014, 9075, 9158, 9422, 9510, 9582,
         9602]
s6492 = [24, 92, 224, 360, 584, 632, 792, 948, 1032, 1200, 1312, 1384, 1456, 1504, 1680, 1848, 1980, 2040, 2264, 2312,
         2384, 2464, 2568, 2640, 2712, 2784, 2832, 2964, 3048, 3096, 3144, 3216, 3312, 3384, 3456, 3524, 3592, 3708,
         3804, 3852, 3924, 4188, 4296, 4344, 4392, 4424, 4536, 4728, 4776, 4860, 4912, 4992, 5100, 5156, 5220, 5388,
         5736, 5784, 5992, 6264, 6312, 6456, 6648, 7008, 7140, 7656, 7692, 7776, 7920, 8076, 8112, 8208, 8244, 8316,
         8556, 8640, 8700, 8940, 8980, 9044, 9240, 9324, 9564, 9612, 9652, 9724, 9800]
s6491 = [200, 252, 372, 448, 624, 684, 744, 804, 852, 972, 1080, 1644, 1704, 1872, 1952, 2076, 2152, 2280, 2436, 2652,
         2712, 2772, 2804, 2952, 3120, 3156, 3252, 3348, 3408, 3480, 3540, 3984, 4044, 4104, 4272, 4320, 4536, 4788,
         4836, 5340, 5388, 5520, 5760, 6096, 6336, 6372, 6420, 6876, 6912, 6948, 7248, 7320, 7440, 7560, 7692, 7944,
         8100, 8148, 8232, 8292, 8544, 8712, 9024, 9072, 9228, 9444, 9480, 9600, 9660, 9756, 9792, 9844]
s6490 = [44, 132, 336, 396, 516, 744, 1068, 1128, 1200, 1296, 1320, 1440, 1680, 1764, 1824, 1992, 2052, 2196, 2388,
         2496, 2532, 2688, 2808, 2916, 3084, 3136, 3228, 3432, 3672, 3804, 3996, 4080, 4188, 4432, 4480, 4728, 5004,
         5052, 5580, 5664, 5736, 6252, 6384, 6588, 6744, 6948, 7380, 7428, 7884, 8088, 8244, 8292, 8472, 8808, 9192,
         9312, 9384, 9564, 9624, 9828]
s6489 = [336, 576, 924, 1932, 2004, 2568, 2600, 2760, 2904, 2940, 3192, 3324, 3408, 3672, 3804, 4224, 4252, 4344, 4488,
         4884, 6336, 6528, 6840, 6960, 6996, 7260, 7452, 8040, 8364, 8436, 8532, 9012, 9324, 9420]
s6488 = [420, 936, 1092, 2256, 2760, 2868, 2988, 3012, 4260, 4356, 4440, 4896, 4944, 7812, 8964, 9660, 9744]
s6487 = [228, 384, 804, 1332, 1716, 2184, 2760, 2820, 3036, 3768, 3888, 4008, 4212, 4296, 4500, 4548, 5556, 6156,
         6600, 7656]
s6486 = [180, 720, 1488, 1716, 1896, 2340, 2952, 3312, 6084, 6828, 7992]
s6485 = [336, 612, 1968, 2148, 3744, 5016, 6468, 6852, 8664, 9348, 9696]
s6484 = [444, 3132]
s6483 = [3840, 6960]
s6482 = [1464, 3060, 5364, 6120]
s6481 = [2904]
s6480 = [1116]
s6478 = [3960]

levels = [
    (6525, s6525), (6524, s6524), (6523, s6523), (6522, s6522), (6521, s6521), (6520, s6520), (6519, s6519),
    (6518, s6518), (6517, s6517), (6516, s6516), (6515, s6515), (6514, s6514), (6513, s6513), (6512, s6512),
    (6511, s6511), (6510, s6510), (6509, s6509), (6508, s6508), (6508, f6508), (6507, s6507), (6507, f6507),
    (6506, s6506), (6506, f6506), (6505, s6505), (6505, f6505), (6504, s6504), (6504, f6504), (6503, s6503),
    (6503, f6503), (6502, s6502), (6502, f6502), (6501, s6501), (6501, f6501), (6500, s6500), (6500, f6500),
    (6499, s6499), (6499, f6499), (6498, s6498), (6497, s6497), (6496, s6496), (6495, s6495), (6494, s6494),
    (6493, s6493), (6492, s6492), (6491, s6491), (6490, s6490), (6489, s6489), (6488, s6488), (6487, s6487),
    (6486, s6486), (6485, s6485), (6484, s6484), (6483, s6483), (6482, s6482), (6481, s6481), (6480, s6480),
    (6478, s6478),
]

xs = []
ys = []
for level, samples in levels:
    xs.extend(samples)
    ys.extend([level] * len(samples))

fig, ax = plt.subplots(figsize=(10, 10))
ax.plot(xs, ys, "k.", label="Samples\n$\\mu$ = 6503.03, $\\sigma$ = 5.92")
ax.set_title("Run 550, channel037, Pedestal")
ax.set_xlabel("Sample #")
ax.set_ylabel("ADC Counts")
ax.grid(True)
ax.legend(loc="upper right")
plt.tight_layout()
# reference axes start a touch higher than tight_layout leaves them
fig.subplots_adjust(top=0.965)
plt.savefig("out.png", dpi=100)
